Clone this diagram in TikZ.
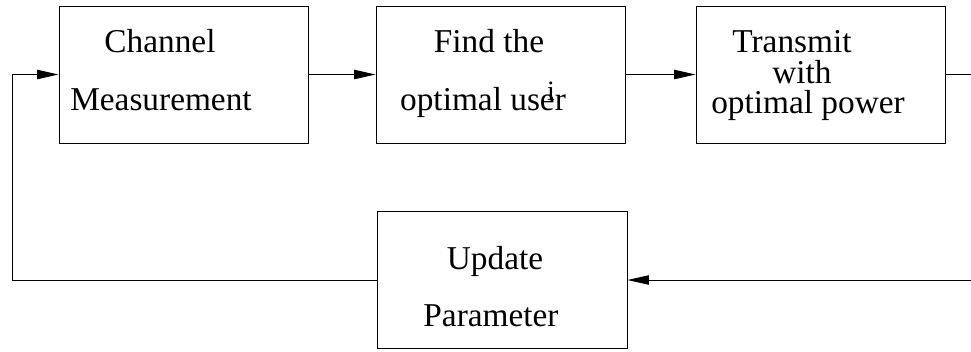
\documentclass[tikz,border=0pt]{standalone}
\usepackage{fontspec}
\setmainfont{Liberation Serif}
\usepackage{tikz}
\usetikzlibrary{arrows.meta, positioning}

\tikzset{
  blockbox/.style={draw, line width=0.7pt, minimum width=186.75pt, minimum height=102.75pt, inner sep=0pt},
  blocktext/.style={anchor=base, inner sep=0pt, font=\fontsize{25}{30}\selectfont},
  flow/.style={line width=0.7pt, -{Triangle[length=16pt, width=7pt]}},
  plain/.style={line width=0.7pt}
}

\begin{document}
\begin{tikzpicture}[x=0.75pt, y=-0.75pt]
    \useasboundingbox (0,0) rectangle (971,351);

    % Blocks
    \node[blockbox] (measure) at (183.5, 74.5) {};
    \node[blockbox] (finduser) at (500.5, 74.5) {};
    \node[blockbox] (transmit) at (820.5, 74.5) {};
    \node[blockbox, minimum width=187.5pt] (update) at (502, 280) {};

    % Block texts
    \node[blocktext] (measureA) at (160, 52) {Channel};
    \node[blocktext] (measureB) at (161, 110) {Measurement};
    \node[blocktext] (finduserA) at (489, 52) {Find the};
    \node[blocktext] (finduserB) at (483, 110) {optimal user};
    \node[blocktext, font=\fontsize{21}{25}\selectfont] (finduserI) at (551, 100) {i};
    \node[blocktext] (transmitA) at (792, 52) {Transmit};
    \node[blocktext] (transmitB) at (802, 83) {with};
    \node[blocktext] (transmitC) at (808, 113) {optimal power};
    \node[blocktext] (updateA) at (495, 269) {Update};
    \node[blocktext] (updateB) at (491, 326) {Parameter};

    % Loop ends
    \coordinate (loopL) at (12, 74.5);
    \coordinate (outR) at (971, 74.5);
    \coordinate (inR) at (971, 280);

    % Connectors
    \draw[flow] (update.west) -| (loopL) -- (measure.west);
    \draw[flow] (measure.east) -- (finduser.west);
    \draw[flow] (finduser.east) -- (transmit.west);
    \draw[plain] (transmit.east) -- (outR);
    \draw[flow] (inR) -- (update.east);

\end{tikzpicture}
\end{document}
